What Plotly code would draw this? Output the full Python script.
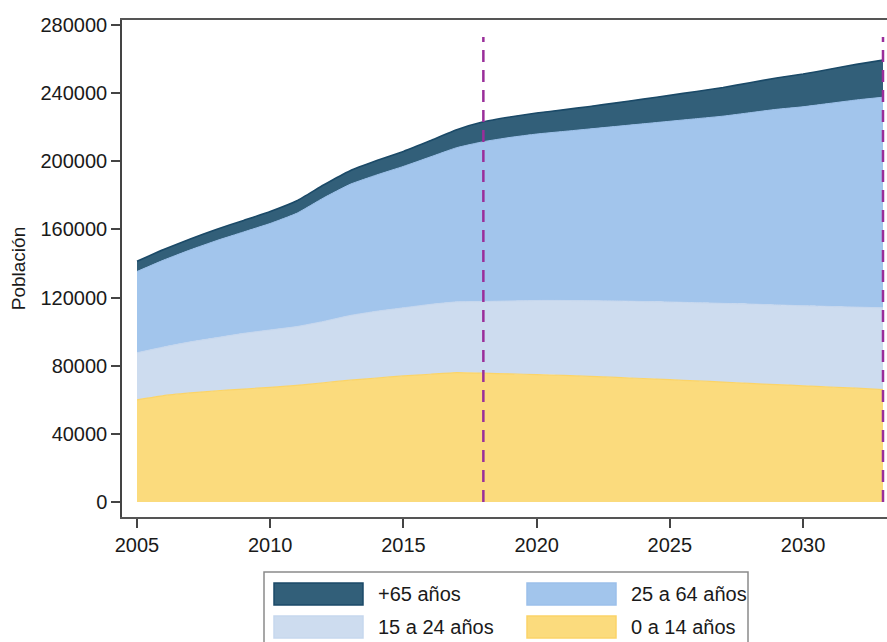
import plotly.graph_objects as go

# ---------------- data ----------------
years = list(range(2005, 2034))

pop_0_14 = [60000, 62500, 64000, 65300, 66300, 67300, 68500, 70000, 71500, 72800,
            74000, 75000, 76000, 75600, 75200, 74800, 74300, 73700, 73100, 72500,
            71800, 71100, 70400, 69600, 68900, 68200, 67500, 66800, 66000]
pop_15_24 = [27600, 28500, 30000, 31200, 32700, 33700, 34500, 36000, 38000, 39200,
             40000, 41000, 41500, 42100, 42800, 43500, 44000, 44500, 44900, 45200,
             45600, 45900, 46200, 46600, 46800, 47000, 47300, 47600, 48000]
pop_25_64 = [47700, 51000, 54000, 57000, 59500, 62500, 66500, 72500, 77000, 80000,
             83000, 86500, 90500, 93800, 96000, 97700, 99200, 100800, 102500, 104300,
             106100, 108000, 109900, 112300, 114800, 116800, 119200, 121600, 123600]
pop_65 = [6000, 6200, 6400, 6600, 6800, 7000, 7300, 7600, 8000, 8400,
          8800, 9500, 10500, 11700, 12000, 12300, 12700, 13200, 13800, 14500,
          15200, 16000, 16800, 17600, 18400, 19200, 20000, 20900, 21800]

series_names = ["0 a 14 años", "15 a 24 años", "25 a 64 años", "+65 años"]
vline_years = [2018, 2033]
vline_top = 273000

y_ticks = [0, 40000, 80000, 120000, 160000, 200000, 240000, 280000]
x_ticks = [2005, 2010, 2015, 2020, 2025, 2030]

# ---------------- style ----------------
W, H = 887, 642
ML, MR, MT, MB = 122, 0, 20, 125
PW, PH = W - ML - MR, H - MT - MB

fills = ["#fbdb7d", "#cddcef", "#a2c5ec", "#325f79"]
lines = ["#fbd468", "#c6d7ee", "#9cc0ea", "#1b4a68"]
line_w = [1.2, 1.0, 1.0, 1.6]
FONT = "Liberation Sans, Arial, sans-serif"
TXT = "#1a1a1a"
VCOL = "#9a2e9a"

fig = go.Figure()
for vals, name, fc, lc, lw in zip([pop_0_14, pop_15_24, pop_25_64, pop_65],
                                   series_names, fills, lines, line_w):
    fig.add_trace(go.Scatter(
        x=years, y=vals, name=name, stackgroup="pop", mode="lines",
        line=dict(color=lc, width=lw, shape="spline", smoothing=0.4),
        fillcolor=fc, showlegend=False, hoverinfo="x+y+name"))

for vy in vline_years:
    fig.add_trace(go.Scatter(
        x=[vy, vy], y=[0, vline_top], mode="lines",
        line=dict(color=VCOL, width=2.5, dash="12px,8px"),
        showlegend=False, hoverinfo="skip", cliponaxis=False))

# ---------------- manual legend (layout decoration) ----------------
def px_x(p):
    return (p - ML) / PW

def px_y(p):
    return (H - MB - p) / PH

shapes = [dict(type="rect", xref="paper", yref="paper",
               x0=px_x(264), x1=px_x(748), y0=px_y(660), y1=px_y(572),
               line=dict(color="#8a8a8a", width=1.5), fillcolor="white", layer="above")]
annotations = []
legend_layout = [  # (series index, column x, row y)
    (3, 274, 583), (2, 527, 583), (1, 274, 616), (0, 527, 616)]
for idx, sx, sy in legend_layout:
    shapes.append(dict(type="rect", xref="paper", yref="paper",
                       x0=px_x(sx), x1=px_x(sx + 89), y0=px_y(sy + 22), y1=px_y(sy),
                       line=dict(color=lines[idx], width=1.5), fillcolor=fills[idx],
                       layer="above"))
    annotations.append(dict(xref="paper", yref="paper", x=px_x(sx + 102), y=px_y(sy + 11),
                            text=series_names[idx], showarrow=False, xanchor="left",
                            yanchor="middle", font=dict(family=FONT, size=20, color=TXT)))

fig.update_layout(
    width=W, height=H,
    margin=dict(l=ML, r=MR, t=MT, b=MB, pad=0, autoexpand=False),
    paper_bgcolor="white", plot_bgcolor="white",
    font=dict(family=FONT, size=20, color=TXT),
    showlegend=False,
    shapes=shapes, annotations=annotations,
    xaxis=dict(range=[2004.437, 2033.15], tickvals=x_ticks, ticks="outside", ticklen=9,
               tickwidth=1.5, tickcolor="#444", showgrid=False, zeroline=False,
               showline=True, linecolor="#555", linewidth=1.5, mirror=True,
               automargin=False, tickformat="d",
               tickfont=dict(family=FONT, size=20, color=TXT)),
    yaxis=dict(range=[-8805, 282935], tickvals=y_ticks, ticks="outside", ticklen=9,
               tickwidth=1.5, tickcolor="#444", showgrid=False, zeroline=False,
               showline=True, linecolor="#444", linewidth=1.5,
               automargin=False, tickformat="d",
               tickfont=dict(family=FONT, size=20, color=TXT),
               title=dict(text="Población", standoff=10,
                          font=dict(family=FONT, size=19, color=TXT))),
)

fig.write_html("out.html",
               config={"displayModeBar": False},
               post_script="document.body.style.margin='0';document.body.style.overflow='hidden';")
